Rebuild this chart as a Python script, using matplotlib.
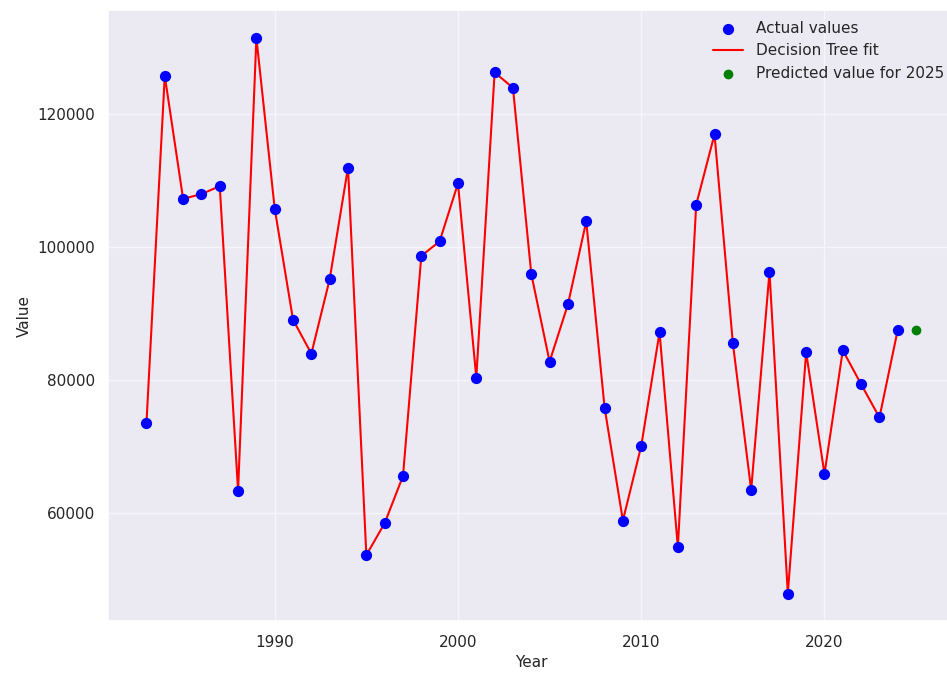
import matplotlib
matplotlib.use("Agg")
import matplotlib.pyplot as plt
import seaborn as sns
import numpy as np

years = list(range(1983, 2025))
values = [73500, 125800, 107300, 108000, 109200, 63400, 131500, 105800,
          89100, 84000, 95200, 112000, 53700, 58500, 65600, 98700,
          100900, 109600, 80400, 126300, 124000, 96000, 82800, 91400,
          103900, 75900, 58900, 70100, 87200, 54900, 106400, 117000,
          85600, 63500, 96300, 47900, 84200, 65900, 84500, 79400,
          74400, 87600]
pred_year = 2025
pred_value = 87600

sns.set_theme(style="darkgrid", rc={'axes.facecolor': '#EBEAF3', 'grid.color': '#F6F6FA'})
plt.rcParams['font.family'] = ['DejaVu Sans']

fig = plt.figure(figsize=(9.47, 6.74), dpi=100)
ax = fig.add_axes([0.114, 0.078, 0.894, 0.907])

ax.scatter(years, values, color='blue', s=50, label='Actual values', zorder=3)
ax.plot(years, values, color='red', linewidth=1.5, label='Decision Tree fit', zorder=2)
ax.scatter([pred_year], [pred_value], color='green', s=36, label='Predicted value for 2025', zorder=3)

ax.set_xlabel('Year', fontsize=11)
ax.set_ylabel('Value', fontsize=11)
ax.tick_params(labelsize=11)
ax.legend(loc='upper right', fontsize=11, frameon=False, borderaxespad=0.3)

fig.savefig('out.png', dpi=100)
